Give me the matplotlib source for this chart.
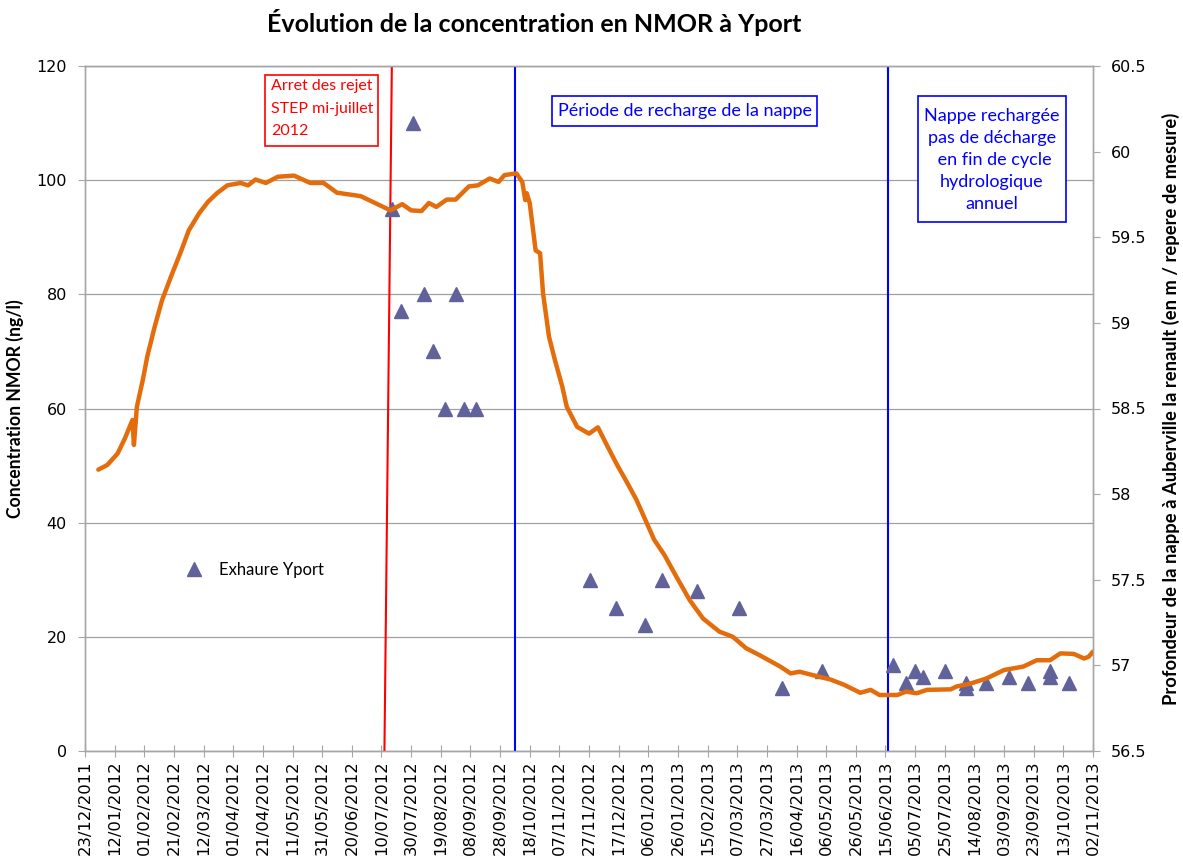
import matplotlib
matplotlib.use("Agg")
import matplotlib.pyplot as plt
import matplotlib.dates as mdates
from matplotlib.patches import Rectangle
import datetime as dt

# ---------------- data ----------------
title = "Évolution de la concentration en NMOR à Yport"
ylabel_left = "Concentration NMOR (ng/l)"
ylabel_right = "Profondeur de la nappe à Auberville la renault (en m / repere de mesure)"
legend_label = "Exhaure Yport"

# groundwater depth (right axis, m)
nappe_dates = [
    "2012-01-01", "2012-01-07", "2012-01-14", "2012-01-19", "2012-01-24", "2012-01-25",
    "2012-01-27", "2012-01-31", "2012-02-03", "2012-02-08", "2012-02-13", "2012-02-19",
    "2012-02-26", "2012-03-02", "2012-03-09", "2012-03-15", "2012-03-21", "2012-03-28",
    "2012-04-06", "2012-04-11", "2012-04-16", "2012-04-23", "2012-05-01", "2012-05-12",
    "2012-05-23", "2012-06-01", "2012-06-10", "2012-06-26", "2012-07-04", "2012-07-16",
    "2012-07-24", "2012-07-30", "2012-08-06", "2012-08-11", "2012-08-16", "2012-08-23",
    "2012-08-29", "2012-09-07", "2012-09-13", "2012-09-21", "2012-09-27", "2012-10-01",
    "2012-10-09", "2012-10-13", "2012-10-15", "2012-10-16", "2012-10-18", "2012-10-22",
    "2012-10-25", "2012-10-27", "2012-10-31", "2012-11-04", "2012-11-09", "2012-11-12",
    "2012-11-19", "2012-11-27", "2012-12-03", "2012-12-09", "2012-12-16", "2012-12-23",
    "2012-12-29", "2013-01-04", "2013-01-10", "2013-01-17", "2013-01-25", "2013-02-03",
    "2013-02-12", "2013-02-23", "2013-03-04", "2013-03-13", "2013-03-22", "2013-04-05",
    "2013-04-12", "2013-04-18", "2013-04-27", "2013-05-09", "2013-05-18", "2013-05-29",
    "2013-06-05", "2013-06-11", "2013-06-23", "2013-06-29", "2013-07-06", "2013-07-13",
    "2013-07-29", "2013-08-02", "2013-08-11", "2013-08-22", "2013-09-03", "2013-09-16",
    "2013-09-25", "2013-10-04", "2013-10-11", "2013-10-20", "2013-10-27", "2013-10-30",
    "2013-11-02",
]
nappe_depth = [
    58.143, 58.170, 58.237, 58.327, 58.433, 58.287,
    58.510, 58.667, 58.803, 58.977, 59.133, 59.270,
    59.423, 59.540, 59.640, 59.707, 59.757, 59.803,
    59.817, 59.803, 59.837, 59.817, 59.853, 59.860,
    59.817, 59.817, 59.760, 59.740, 59.707, 59.657,
    59.693, 59.657, 59.653, 59.700, 59.677, 59.720,
    59.720, 59.797, 59.803, 59.843, 59.823, 59.863,
    59.873, 59.823, 59.717, 59.757, 59.700, 59.423,
    59.407, 59.173, 58.920, 58.783, 58.627, 58.510,
    58.393, 58.353, 58.390, 58.287, 58.170, 58.063,
    57.967, 57.850, 57.733, 57.643, 57.517, 57.380,
    57.273, 57.197, 57.167, 57.100, 57.060, 56.993,
    56.953, 56.963, 56.943, 56.917, 56.887, 56.840,
    56.857, 56.827, 56.827, 56.847, 56.837, 56.857,
    56.860, 56.877, 56.893, 56.923, 56.973, 56.993,
    57.030, 57.030, 57.070, 57.067, 57.040, 57.050,
    57.080,
]

# NMOR concentration at Exhaure Yport (left axis, ng/l)
exhaure_dates = [
    "2012-07-17", "2012-07-23", "2012-07-31", "2012-08-08", "2012-08-14", "2012-08-22",
    "2012-08-29", "2012-09-04", "2012-09-12", "2012-11-28", "2012-12-15", "2013-01-04",
    "2013-01-15", "2013-02-08", "2013-03-08", "2013-04-06", "2013-05-03", "2013-06-20",
    "2013-06-29", "2013-07-05", "2013-07-10", "2013-07-25", "2013-08-08", "2013-08-08",
    "2013-08-22", "2013-09-06", "2013-09-19", "2013-10-04", "2013-10-04", "2013-10-17",
]
exhaure_conc = [
    95, 77, 110, 80, 70, 60,
    80, 60, 60, 30, 25, 22,
    30, 28, 25, 11, 14, 15,
    12, 14, 13, 14, 12, 11,
    12, 13, 12, 14, 13, 12,
]

# reference dates
arret_rejet = ("2012-07-12", "2012-07-17")   # slanted red line (bottom, top)
debut_recharge = "2012-10-08"
nappe_rechargee = "2013-06-17"

x_start = "2011-12-23"
x_end = "2013-11-02"
tick_step_days = 20

left_ylim = (0, 120)
left_ticks = [0, 20, 40, 60, 80, 100, 120]
right_ylim = (56.5, 60.5)
right_ticks = [56.5, 57, 57.5, 58, 58.5, 59, 59.5, 60, 60.5]

# ---------------- figure ----------------
def d(s):
    return dt.datetime.strptime(s, "%Y-%m-%d")

TXT = ["Lato", "DejaVu Sans"]
plt.rcParams["font.family"] = ["DejaVu Sans"]

fig = plt.figure(figsize=(11.83, 8.61), dpi=100)
ax = fig.add_axes([85 / 1183, 1 - 751 / 861, (1093 - 85) / 1183, (751 - 66) / 861])
ax2 = ax.twinx()

grid_c = "#A0A0A0"
spine_c = "#A6A6A6"

ax.set_ylim(*left_ylim)
ax.set_yticks(left_ticks)
ax2.set_ylim(*right_ylim)
ax2.set_yticks(right_ticks)
ax2.set_yticklabels([("%g" % v) for v in right_ticks])

ax.set_xlim(d(x_start), d(x_end))
ticks = []
t = d(x_start)
while t <= d(x_end):
    ticks.append(t)
    t += dt.timedelta(days=tick_step_days)
ax.set_xticks(ticks)
ax.xaxis.set_major_formatter(mdates.DateFormatter("%d/%m/%Y"))
for lab in ax.get_xticklabels():
    lab.set_rotation(90)

ax.yaxis.grid(True, color=grid_c, linewidth=0.9)
ax.set_axisbelow(True)

for a in (ax, ax2):
    for s in a.spines.values():
        s.set_color(spine_c)
        s.set_linewidth(1.0)
ax.tick_params(axis="x", direction="inout", length=8, color=spine_c, labelsize=11.8, pad=3)
ax.tick_params(axis="y", direction="out", length=5, color=spine_c, labelsize=11.5, pad=8)
ax2.tick_params(axis="y", direction="out", length=5, color=spine_c, labelsize=11.5, pad=8)

# vertical reference lines
ax.plot([d(arret_rejet[0]), d(arret_rejet[1])], [left_ylim[0], left_ylim[1]],
        color="#FF0000", linewidth=1.5, zorder=3)
ax.axvline(d(debut_recharge), color="#0000FF", linewidth=1.5, zorder=3)
ax.axvline(d(nappe_rechargee), color="#0000FF", linewidth=1.5, zorder=3)

# exhaure triangles
ax.plot([d(s) for s in exhaure_dates], exhaure_conc, linestyle="none", marker="^",
        markersize=10.5, color="#62629A", markeredgecolor="#62629A", label=legend_label,
        zorder=4)

# groundwater line
ax2.plot([d(s) for s in nappe_dates], nappe_depth, color="#E46C0A", linewidth=3.2,
         solid_joinstyle="round", solid_capstyle="round", zorder=5)

# labels
fig.text(534 / 1183, 1 - 22 / 861, title, ha="center", va="center", fontsize=18,
         fontweight="bold", family=TXT)
ax.set_ylabel(ylabel_left, fontsize=12.7, fontweight="bold", family=TXT, labelpad=9)
ax2.set_ylabel(ylabel_right, fontsize=13.2, fontweight="bold", family=TXT, labelpad=11)

leg = ax.legend(loc="center left", bbox_to_anchor=(0.092, 0.264), frameon=False,
                borderpad=0, handlelength=1.0, handletextpad=1.0, numpoints=1,
                prop={"family": TXT, "size": 12})

# annotation boxes
def fx(px):
    return (px - 85) / 1008

def fy(py):
    return (751 - py) / 685

def box(x0, x1, ytop, ybot, color):
    ax.add_patch(Rectangle((fx(x0), fy(ybot)), fx(x1) - fx(x0), fy(ytop) - fy(ybot),
                           transform=ax.transAxes, facecolor="white", edgecolor=color,
                           linewidth=1.2, zorder=6))

box(265, 378, 75, 146, "#FF0000")
ax.text(fx(271), fy(108.5), "Arret des rejet\nSTEP mi-juillet\n2012", transform=ax.transAxes,
        ha="left", va="center", color="#FF0000", fontsize=11.5, family=TXT,
        linespacing=1.75, zorder=7)

box(552, 817, 96, 126, "#0000FF")
ax.text(fx(684.5), fy(111), "Période de recharge de la nappe", transform=ax.transAxes,
        ha="center", va="center", color="#0000FF", fontsize=13, family=TXT, zorder=7)

box(918, 1066, 96, 222, "#0000FF")
ax.text(fx(992), fy(160), "Nappe rechargée\npas de décharge\n en fin de cycle\nhydrologique\nannuel",
        transform=ax.transAxes, ha="center", va="center", multialignment="center",
        color="#0000FF", fontsize=13, family=TXT, linespacing=1.48, zorder=7)

fig.savefig("out.png", dpi=100)
